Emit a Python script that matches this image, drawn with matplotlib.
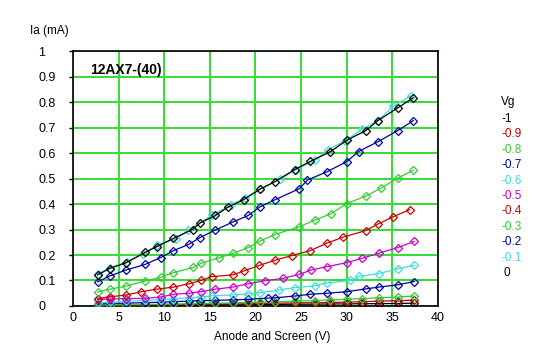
import matplotlib
matplotlib.use('Agg')
import matplotlib.pyplot as plt

# grid voltages and legend colours
vg_labels = ['-1', '-0.9', '-0.8', '-0.7', '-0.6', '-0.5', '-0.4', '-0.3', '-0.2', '-0.1', '0']
vg_colors = ['#000000', '#C00000', '#33CC33', '#0000A0', '#40DDDD', '#CC00CC',
             '#CC0000', '#33CC33', '#0000A0', '#40DDDD', '#000000']

# anode/screen voltage (V) and anode current (mA) per curve
va_m10 = [2.7, 4.05, 5.8, 7.9, 9.6, 11.0, 12.7, 14.0, 15.6, 17.5, 19.2, 20.5, 22.1, 24.3, 26.5, 28.2, 30.0, 31.7, 33.5, 35.6, 37.4]
ia_m10 = [0.002, 0.002, 0.003, 0.003, 0.003, 0.004, 0.004, 0.004, 0.005, 0.005, 0.005, 0.006, 0.006, 0.007, 0.007, 0.008, 0.008, 0.009, 0.009, 0.010, 0.011]
va_m09 = [2.7, 4.05, 5.8, 7.9, 9.6, 11.0, 12.7, 14.0, 15.6, 17.5, 19.2, 20.5, 22.1, 24.3, 26.5, 28.2, 30.0, 31.7, 33.5, 35.6, 37.4]
ia_m09 = [0.003, 0.003, 0.004, 0.004, 0.005, 0.006, 0.006, 0.007, 0.008, 0.008, 0.009, 0.010, 0.011, 0.012, 0.013, 0.014, 0.015, 0.017, 0.019, 0.021, 0.023]
va_m08 = [2.7, 4.05, 5.8, 7.9, 9.6, 11.0, 12.7, 14.0, 15.6, 17.5, 19.2, 20.5, 22.1, 24.3, 26.5, 28.2, 30.0, 31.7, 33.5, 35.6, 37.4]
ia_m08 = [0.004, 0.005, 0.005, 0.006, 0.007, 0.008, 0.009, 0.010, 0.011, 0.012, 0.014, 0.015, 0.017, 0.019, 0.021, 0.024, 0.026, 0.029, 0.032, 0.035, 0.039]
va_m07 = [2.7, 4.05, 5.8, 7.9, 9.6, 11.0, 12.7, 13.9, 15.6, 17.5, 19.2, 21.4, 22.1, 24.3, 26.0, 27.8, 30.0, 32.1, 33.5, 35.6, 37.4]
ia_m07 = [0.008, 0.010, 0.011, 0.013, 0.015, 0.017, 0.019, 0.021, 0.022, 0.024, 0.026, 0.031, 0.032, 0.039, 0.046, 0.050, 0.056, 0.067, 0.074, 0.083, 0.096]
va_m06 = [2.7, 4.05, 5.8, 7.9, 9.6, 11.0, 12.7, 14.0, 15.2, 17.5, 19.2, 20.5, 22.6, 24.3, 26.5, 27.8, 30.4, 31.3, 33.5, 35.6, 37.4]
ia_m06 = [0.012, 0.015, 0.018, 0.022, 0.025, 0.028, 0.032, 0.035, 0.040, 0.043, 0.048, 0.052, 0.063, 0.072, 0.079, 0.090, 0.100, 0.116, 0.127, 0.146, 0.159]
va_m05 = [2.7, 4.05, 5.8, 7.9, 9.6, 11.0, 12.7, 14.0, 15.6, 17.5, 19.2, 21.0, 23.0, 24.8, 26.1, 27.8, 30.0, 31.7, 33.5, 35.6, 37.4]
ia_m05 = [0.026, 0.027, 0.029, 0.030, 0.035, 0.046, 0.050, 0.056, 0.066, 0.074, 0.087, 0.099, 0.108, 0.124, 0.141, 0.154, 0.170, 0.187, 0.207, 0.229, 0.253]
va_m04 = [2.7, 4.05, 5.8, 7.5, 9.2, 11.0, 12.7, 14.0, 15.2, 17.5, 18.7, 20.4, 22.1, 24.0, 26.0, 27.8, 29.6, 32.1, 33.4, 35.1, 36.9]
ia_m04 = [0.029, 0.036, 0.043, 0.056, 0.066, 0.074, 0.087, 0.100, 0.115, 0.122, 0.137, 0.159, 0.179, 0.198, 0.217, 0.246, 0.270, 0.296, 0.321, 0.350, 0.378]
va_m03 = [2.7, 4.05, 5.8, 7.9, 9.6, 11.0, 13.2, 14.0, 16.0, 17.5, 19.2, 20.5, 22.1, 24.8, 26.5, 28.3, 30.0, 32.1, 33.8, 35.6, 37.3]
ia_m03 = [0.055, 0.066, 0.078, 0.098, 0.112, 0.131, 0.151, 0.167, 0.189, 0.206, 0.229, 0.255, 0.280, 0.311, 0.337, 0.362, 0.402, 0.431, 0.463, 0.502, 0.532]
va_m02 = [2.7, 4.05, 5.8, 7.9, 9.6, 11.0, 12.7, 13.9, 15.6, 17.5, 19.2, 20.5, 22.1, 24.8, 25.7, 27.8, 30.0, 31.3, 33.4, 35.6, 37.3]
ia_m02 = [0.095, 0.118, 0.141, 0.163, 0.190, 0.217, 0.242, 0.268, 0.298, 0.329, 0.355, 0.389, 0.416, 0.460, 0.494, 0.526, 0.566, 0.606, 0.644, 0.688, 0.727]
va_m01 = [2.7, 4.1, 5.9, 7.7, 9.2, 11.3, 12.6, 15.2, 17.3, 18.9, 20.5, 22.7, 24.4, 26.5, 27.9, 29.8, 31.7, 33.4, 35.1, 37.0]
ia_m01 = [0.125, 0.150, 0.174, 0.205, 0.240, 0.263, 0.297, 0.355, 0.396, 0.425, 0.460, 0.497, 0.535, 0.571, 0.612, 0.648, 0.693, 0.727, 0.783, 0.824]
va_0 = [2.7, 4.0, 5.85, 7.9, 9.2, 11.0, 13.1, 13.9, 15.6, 16.95, 18.7, 20.5, 22.1, 24.3, 26.0, 28.2, 30.0, 32.1, 33.4, 35.6, 37.3]
ia_0 = [0.122, 0.147, 0.170, 0.210, 0.233, 0.265, 0.300, 0.325, 0.355, 0.387, 0.417, 0.458, 0.487, 0.535, 0.567, 0.605, 0.650, 0.688, 0.727, 0.777, 0.817]

curves = [(va_m10, ia_m10), (va_m09, ia_m09), (va_m08, ia_m08), (va_m07, ia_m07),
          (va_m06, ia_m06), (va_m05, ia_m05), (va_m04, ia_m04), (va_m03, ia_m03),
          (va_m02, ia_m02), (va_m01, ia_m01), (va_0, ia_0)]

x_ticks = [0, 5, 10, 15, 20, 25, 30, 35, 40]
y_ticks = [0, 0.1, 0.2, 0.3, 0.4, 0.5, 0.6, 0.7, 0.8, 0.9, 1]
y_ticklabels = ['0', '0.1', '0.2', '0.3', '0.4', '0.5', '0.6', '0.7', '0.8', '0.9', '1']

plt.rcParams['font.family'] = ['Liberation Sans', 'DejaVu Sans']
fig = plt.figure(figsize=(5.47, 3.57), dpi=100)
ax = fig.add_axes([0.1335, 0.1429, 0.667, 0.714])

for (va, ia), col in zip(curves, vg_colors):
    ax.plot(va, ia, color=col, lw=0.9, marker='D', markersize=4.0,
            markerfacecolor='none', markeredgecolor=col, markeredgewidth=0.9, zorder=3)

ax.set_xlim(0, 40)
ax.set_ylim(0, 1)
ax.set_xticks(x_ticks)
ax.set_yticks(y_ticks)
ax.set_yticklabels(y_ticklabels)
ax.grid(True, color='#33DD33', lw=1.4, zorder=0)
ax.set_axisbelow(True)
for s in ax.spines.values():
    s.set_color('black')
    s.set_linewidth(1.2)
ax.tick_params(axis='x', length=0, labelsize=9, pad=4)
# y labels are left aligned at a fixed column in the original
ax.tick_params(axis='y', length=3, width=1, labelsize=9, pad=22)
for lab in ax.get_yticklabels():
    lab.set_horizontalalignment('left')

ax.text(0.047, 0.925, '12AX7-(40)', transform=ax.transAxes, fontsize=10,
        fontweight='bold', ha='left', va='center')
fig.text(30 / 547, 1 - 31 / 357, 'Ia (mA)', fontsize=8.5, ha='left', va='center')
fig.text(272 / 547, 1 - 337 / 357, 'Anode and Screen (V)', fontsize=8.5,
         ha='center', va='center')

# legend as coloured text column
fig.text(501 / 547, 1 - 102 / 357, 'Vg', fontsize=8.5, ha='left', va='center')
for i, (lab, col) in enumerate(zip(vg_labels, vg_colors)):
    yy = 119 + i * 15.4
    xx = 503 if lab == '0' else 501
    fig.text(xx / 547, 1 - yy / 357, lab, color=col, fontsize=8.5,
             ha='left', va='center')

fig.savefig('out.png', dpi=100)
